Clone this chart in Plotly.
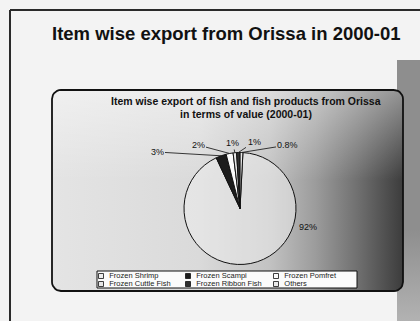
import numpy as np
import plotly.graph_objects as go

# ---------------- data ----------------
CATEGORIES = ["Frozen Shrimp", "Frozen Scampi", "Frozen Pomfret",
              "Frozen Cuttle Fish", "Frozen Ribbon Fish", "Others"]
VALUES = [92, 3, 2, 1, 1, 0.8]
SLIDE_TITLE = "Item wise export from Orissa in 2000-01"
CHART_TITLE = ["Item wise export of fish and fish products from Orissa",
               "in terms of value (2000-01)"]

# ---------------- style ----------------
W, H = 420, 321
FONT = "Liberation Sans, Arial, sans-serif"
SLICE_COLORS = ["rgba(236,236,236,0.55)", "#1c1c1c", "#fbfbfb",
                "#e6e6e6", "#2e2e2e", "#e9e9e9"]
CX, CY, R = 240, 208.5, 56
ROTATION = 3
# text positions of slice labels (pixels)
LABEL_XY = [(308, 227), (157, 152), (198, 145), (233, 143), (254, 142), (288, 145)]

fig = go.Figure()


def rounded_rect(x0, y0, x1, y1, r, n=8):
    xs, ys = [], []
    corners = [(x1 - r, y0 + r, -90, 0), (x1 - r, y1 - r, 0, 90),
               (x0 + r, y1 - r, 90, 180), (x0 + r, y0 + r, 180, 270)]
    for cx, cy, a0, a1 in corners:
        for a in np.linspace(np.radians(a0), np.radians(a1), n):
            xs.append(cx + r * np.cos(a))
            ys.append(cy + r * np.sin(a))
    xs.append(xs[0]); ys.append(ys[0])
    return xs, ys


# right-hand grey strip (photo shading)
fig.add_trace(go.Scatter(
    x=[397, 420, 420, 397, 397], y=[60, 60, 321, 321, 60], mode="lines",
    line=dict(width=0), fill="toself",
    fillgradient=dict(type="vertical",
                      colorscale=[[0, "#b2b2b2"], [0.35, "#8e8e8e"], [1, "#8e8e8e"]]),
    fillcolor="#999", hoverinfo="skip", showlegend=False))

# chart box with gradient
bx, by = rounded_rect(52, 90, 403, 291, 9)
fig.add_trace(go.Scatter(
    x=bx, y=by, mode="lines", line=dict(width=0), fill="toself",
    fillgradient=dict(type="horizontal",
                      colorscale=[[0, "#e4e4e4"], [0.42, "#dadada"], [0.62, "#c2c2c2"],
                                  [0.75, "#9c9c9c"], [0.87, "#707070"], [1, "#3c3c3c"]]),
    fillcolor="#ccc", hoverinfo="skip", showlegend=False))
fig.add_trace(go.Scatter(
    x=bx, y=by, mode="lines", line=dict(width=0), fill="toself",
    fillgradient=dict(type="vertical",
                      colorscale=[[0, "rgba(255,255,255,0)"], [0.55, "rgba(255,255,255,0)"],
                                  [1, "rgba(255,255,255,0.45)"]]),
    fillcolor="rgba(0,0,0,0)", hoverinfo="skip", showlegend=False))
fig.add_trace(go.Scatter(
    x=bx, y=by, mode="lines", line=dict(color="#111", width=1.8),
    hoverinfo="skip", showlegend=False))

# legend box
LX0, LX1, LY0, LY1 = 97, 357, 271, 288
fig.add_trace(go.Scatter(
    x=[LX0, LX1, LX1, LX0, LX0], y=[LY0, LY0, LY1, LY1, LY0], mode="lines",
    line=dict(color="#111", width=1), fill="toself", fillcolor="#fbfbfb",
    hoverinfo="skip", showlegend=False))

# legend entries (row-major, 3 columns)
COL_X = [101, 188, 276]
ROW_Y = [276, 284]
mx = [COL_X[i % 3] for i in range(len(CATEGORIES))]
my = [ROW_Y[i // 3] for i in range(len(CATEGORIES))]
fig.add_trace(go.Scatter(
    x=mx, y=my, mode="markers+text",
    marker=dict(symbol="square", size=5,
                color=[c if not c.startswith("rgba") else "#eeeeee" for c in SLICE_COLORS],
                line=dict(color="#111", width=0.8)),
    text=["  " + c for c in CATEGORIES], textposition="middle right",
    textfont=dict(family=FONT, size=7.5, color="#222"),
    hoverinfo="skip", showlegend=False))

# pie
fig.add_trace(go.Pie(
    labels=CATEGORIES, values=VALUES, sort=False, direction="clockwise",
    rotation=ROTATION, textinfo="none", hoverinfo="label+percent",
    marker=dict(colors=SLICE_COLORS, line=dict(color="#111", width=1)),
    domain=dict(x=[(CX - R) / W, (CX + R) / W], y=[1 - (CY + R) / H, 1 - (CY - R) / H]),
    showlegend=False))

# slice labels with leader lines
total = sum(VALUES)
start = ROTATION
for i, v in enumerate(VALUES):
    span = v / total * 360
    mid = np.radians(start + span / 2)
    start += span
    px, py = CX + R * np.sin(mid), CY - R * np.cos(mid)
    tx, ty = LABEL_XY[i]
    txt = f"{v:g}%"
    if i == 0:
        fig.add_annotation(x=tx, y=ty, xref="x", yref="y", text=txt, showarrow=False,
                           xanchor="center", yanchor="middle",
                           font=dict(family=FONT, size=9, color="#111"))
    else:
        fig.add_annotation(x=px, y=py, xref="x", yref="y", text=txt, showarrow=True,
                           ax=tx - px, ay=ty - py, arrowhead=0, arrowwidth=0.9,
                           arrowcolor="#222", standoff=0,
                           font=dict(family=FONT, size=9, color="#111"))

# titles
fig.add_annotation(x=226, y=33, xref="x", yref="y", text=SLIDE_TITLE, showarrow=False,
                   xanchor="center", yanchor="middle",
                   font=dict(family=FONT, size=18.5, color="#111", weight="bold"))
for k, line in enumerate(CHART_TITLE):
    fig.add_annotation(x=246, y=101 + 13 * k, xref="x", yref="y", text=line, showarrow=False,
                       xanchor="center", yanchor="middle",
                       font=dict(family=FONT, size=10.5, color="#111", weight="bold"))

# slide border lines
fig.add_shape(type="line", x0=10, y0=10, x1=420, y1=10, xref="x", yref="y",
              line=dict(color="#2a2a2a", width=2))
fig.add_shape(type="line", x0=10, y0=10, x1=10, y1=321, xref="x", yref="y",
              line=dict(color="#2a2a2a", width=2))

fig.update_layout(
    width=W, height=H, margin=dict(l=0, r=0, t=0, b=0),
    paper_bgcolor="#f3f3f3", plot_bgcolor="rgba(0,0,0,0)",
    xaxis=dict(range=[0, W], visible=False, fixedrange=True),
    yaxis=dict(range=[H, 0], visible=False, fixedrange=True),
    showlegend=False)

fig.write_html("out.html", config={"displayModeBar": False},
               post_script="document.body.style.margin='0';"
                           "document.body.style.background='#f3f3f3';")
